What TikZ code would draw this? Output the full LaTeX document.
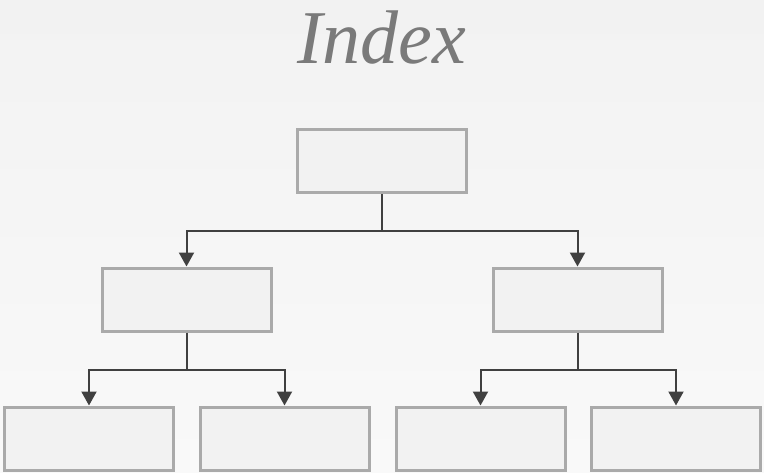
\documentclass[tikz,border=0pt]{standalone}
\usepackage{fontspec}
\setmainfont{Liberation Serif}
\usetikzlibrary{arrows.meta}
\definecolor{boxborder}{HTML}{AAAAAA}
\definecolor{boxfill}{HTML}{F2F2F2}
\definecolor{conncol}{HTML}{404040}
\definecolor{titlecol}{HTML}{7A7A7A}
\definecolor{bgtop}{HTML}{F2F2F2}
\definecolor{bgbot}{HTML}{F9F9F9}
\tikzset{
  box/.style={draw=boxborder, fill=boxfill, line width=3pt, minimum width=169pt, minimum height=63pt, inner sep=0pt},
  conn/.style={draw=conncol, line width=2pt},
  arr/.style={conn, -{Triangle[width=15pt,length=14pt]}},
}
\begin{document}
\begin{tikzpicture}[x=1pt,y=-1pt]
\shade[top color=bgtop, bottom color=bgbot] (0,0) rectangle (764,472);
\useasboundingbox (0,0) rectangle (764,472);
\node[anchor=base, text=titlecol, font={\fontsize{76}{80}\selectfont\itshape}] (title) at (382,63) {Index};
\node[box] (top) at (382,161) {};
\node[box] (ml) at (186.5,299.5) {};
\node[box] (mr) at (577.5,299.5) {};
\node[box] (b1) at (89,438.5) {};
\node[box] (b2) at (284.5,438.5) {};
\node[box] (b3) at (480.5,438.5) {};
\node[box] (b4) at (676,438.5) {};
\coordinate (j0) at (382,231);
\coordinate (j1) at (186.5,370);
\coordinate (j2) at (577.5,370);
\draw[conn] (top.south) -- (j0);
\draw[arr] (j0) -| (ml.north);
\draw[arr] (j0) -| (mr.north);
\draw[conn] (ml.south) -- (j1);
\draw[arr] (j1) -| (b1.north);
\draw[arr] (j1) -| (b2.north);
\draw[conn] (mr.south) -- (j2);
\draw[arr] (j2) -| (b3.north);
\draw[arr] (j2) -| (b4.north);
\end{tikzpicture}
\end{document}
